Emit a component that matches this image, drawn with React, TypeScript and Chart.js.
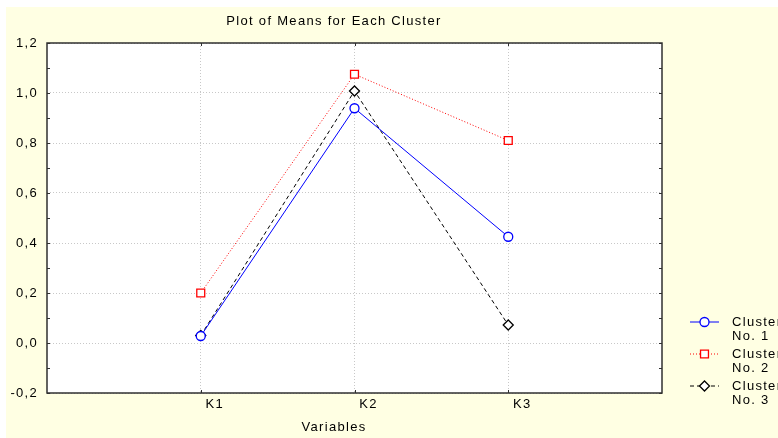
import React, { useEffect, useRef } from 'react';
import { Chart, registerables } from 'chart.js';
import { drawPoint } from 'chart.js/helpers';

Chart.register(...registerables);

// ---- data ----
const chartTitle = 'Plot of Means for Each Cluster';
const xAxisTitle = 'Variables';
const categories = ['K1', 'K2', 'K3'];
const categoryPositions = [1, 2, 3];
const xRange = [0, 4];
const yTickValues = [-0.2, 0, 0.2, 0.4, 0.6, 0.8, 1.0, 1.2];
const yMinorTickValues = [-0.1, 0.1, 0.3, 0.5, 0.7, 0.9, 1.1];
const seriesNames = [
  ['Cluster', 'No. 1'],
  ['Cluster', 'No. 2'],
  ['Cluster', 'No. 3'],
];
const cluster1 = [0.028, 0.939, 0.425];
const cluster2 = [0.2, 1.075, 0.81];
const cluster3 = [0.03, 1.008, 0.072];
const seriesValues = [cluster1, cluster2, cluster3];

// ---- styles ----
const FONT = '"Liberation Sans", Arial, sans-serif';
const LETTER_SPACING = '1.3px';
const CREAM = '#FFFFE3';
const seriesStyles = [
  { color: '#0000FF', dash: [] as number[], pointStyle: 'circle', radius: 4.5 },
  { color: '#FF0000', dash: [1, 2], pointStyle: 'rect', radius: 5.6 },
  { color: '#000000', dash: [4, 3], pointStyle: 'rectRot', radius: 5 },
];

const fmt = (v: number) => v.toFixed(1).replace('.', ',');

const backgroundPlugin = {
  id: 'bg',
  beforeDraw(chart: any) {
    const { ctx, chartArea, width, height } = chart;
    ctx.save();
    ctx.fillStyle = CREAM;
    ctx.fillRect(0, 0, width, height);
    ctx.fillStyle = '#FFFFFF';
    ctx.fillRect(chartArea.left, chartArea.top, chartArea.right - chartArea.left, chartArea.bottom - chartArea.top);
    ctx.restore();
    try {
      (ctx as any).letterSpacing = LETTER_SPACING;
    } catch (e) {
      /* ignore */
    }
  },
};

const framePlugin = {
  id: 'frame',
  afterDraw(chart: any) {
    const { ctx, chartArea } = chart;
    const y = chart.scales.y;
    const x = chart.scales.x;
    ctx.save();
    ctx.strokeStyle = '#303030';
    ctx.lineWidth = 1.5;
    ctx.strokeRect(chartArea.left, chartArea.top, chartArea.right - chartArea.left, chartArea.bottom - chartArea.top);
    ctx.lineWidth = 1;
    ctx.beginPath();
    [...yTickValues, ...yMinorTickValues].forEach((v) => {
      const py = Math.round(y.getPixelForValue(v)) + 0.5;
      ctx.moveTo(chartArea.left, py);
      ctx.lineTo(chartArea.left + 3, py);
      ctx.moveTo(chartArea.right, py);
      ctx.lineTo(chartArea.right - 3, py);
    });
    categoryPositions.forEach((v) => {
      const px = Math.round(x.getPixelForValue(v)) + 0.5;
      ctx.moveTo(px, chartArea.bottom);
      ctx.lineTo(px, chartArea.bottom - 3);
      ctx.moveTo(px, chartArea.top);
      ctx.lineTo(px, chartArea.top + 3);
    });
    ctx.stroke();
    ctx.restore();
  },
};

const legendPlugin = {
  id: 'sideLegend',
  afterDraw(chart: any) {
    const { ctx, chartArea } = chart;
    const x0 = chartArea.right + 28;
    const lineLen = 29;
    const textX = x0 + 42;
    const firstY = chartArea.bottom - 71.5;
    const step = 32;
    chart.data.datasets.forEach((ds: any, i: number) => {
      const yy = firstY + i * step;
      ctx.save();
      ctx.strokeStyle = ds.borderColor;
      ctx.lineWidth = 1;
      ctx.setLineDash(ds.borderDash || []);
      ctx.beginPath();
      ctx.moveTo(x0, yy + 0.5);
      ctx.lineTo(x0 + lineLen, yy + 0.5);
      ctx.stroke();
      ctx.setLineDash([]);
      ctx.fillStyle = '#FFFFFF';
      ctx.strokeStyle = ds.pointBorderColor;
      ctx.lineWidth = 1.3;
      drawPoint(ctx, { pointStyle: ds.pointStyle, radius: ds.pointRadius, rotation: 0, borderWidth: 1.3 }, x0 + lineLen / 2, yy + 0.5);
      ctx.fillStyle = '#000000';
      ctx.font = `13px ${FONT}`;
      ctx.textAlign = 'left';
      ctx.textBaseline = 'middle';
      (seriesNames[i] || []).forEach((t, j) => ctx.fillText(t, textX, yy + 1 + j * 13.5));
      ctx.restore();
    });
  },
};

export default function App() {
  const canvasRef = useRef<HTMLCanvasElement | null>(null);

  useEffect(() => {
    const canvas = canvasRef.current;
    if (!canvas) return;
    const datasets = seriesValues.map((vals, i) => {
      const st = seriesStyles[i];
      return {
        label: seriesNames[i].join(' '),
        data: vals.map((v, j) => ({ x: categoryPositions[j], y: v })),
        borderColor: st.color,
        borderWidth: 1,
        borderDash: st.dash,
        pointStyle: st.pointStyle,
        pointRadius: st.radius,
        pointBorderColor: st.color,
        pointBackgroundColor: '#FFFFFF',
        pointBorderWidth: 1.3,
        fill: false,
        tension: 0,
      };
    });

    const chart = new Chart(canvas, {
      type: 'line',
      data: { datasets } as any,
      plugins: [backgroundPlugin, framePlugin, legendPlugin],
      options: {
        responsive: false,
        animation: false,
        devicePixelRatio: 1,
        layout: { padding: { left: 0, right: 116, top: 0, bottom: 0 } },
        plugins: {
          legend: { display: false },
          tooltip: { enabled: false },
          title: {
            display: true,
            text: chartTitle,
            color: '#000',
            font: { family: FONT, size: 13, weight: 'normal' },
            padding: { top: 7, bottom: 13.4 },
          },
          subtitle: {
            display: true,
            position: 'bottom',
            text: xAxisTitle,
            color: '#000',
            font: { family: FONT, size: 13, weight: 'normal' },
            padding: { top: 4, bottom: 3 },
          },
        },
        scales: {
          x: {
            type: 'linear',
            min: xRange[0],
            max: xRange[1],
            afterBuildTicks: (s: any) => {
              s.ticks = categoryPositions.map((v) => ({ value: v }));
            },
            afterFit: (s: any) => {
              s.height = 22.4;
            },
            ticks: {
              color: '#000',
              font: { family: FONT, size: 13 },
              padding: 4,
              labelOffset: 14,
              maxRotation: 0,
              callback: (v: any) => {
                const idx = categoryPositions.indexOf(Number(v));
                return idx >= 0 ? categories[idx] : '';
              },
            },
            grid: { color: '#C8C8C8', lineWidth: 1, drawTicks: false },
            border: { display: false, dash: [1, 2] },
          },
          y: {
            type: 'linear',
            min: yTickValues[0],
            max: yTickValues[yTickValues.length - 1],
            afterBuildTicks: (s: any) => {
              s.ticks = yTickValues.map((v) => ({ value: v }));
            },
            afterFit: (s: any) => {
              s.width = 41;
            },
            ticks: {
              color: '#000',
              font: { family: FONT, size: 13 },
              padding: 9,
              callback: (v: any) => fmt(Number(v)),
            },
            grid: { color: '#C8C8C8', lineWidth: 1, drawTicks: false },
            border: { display: false, dash: [1, 2] },
          },
        },
      } as any,
    });
    return () => chart.destroy();
  }, []);

  return (
    <div style={{ position: 'absolute', left: 6, top: 7, width: 772, height: 431 }}>
      <canvas ref={canvasRef} width={772} height={431} style={{ display: 'block' }} />
    </div>
  );
}
